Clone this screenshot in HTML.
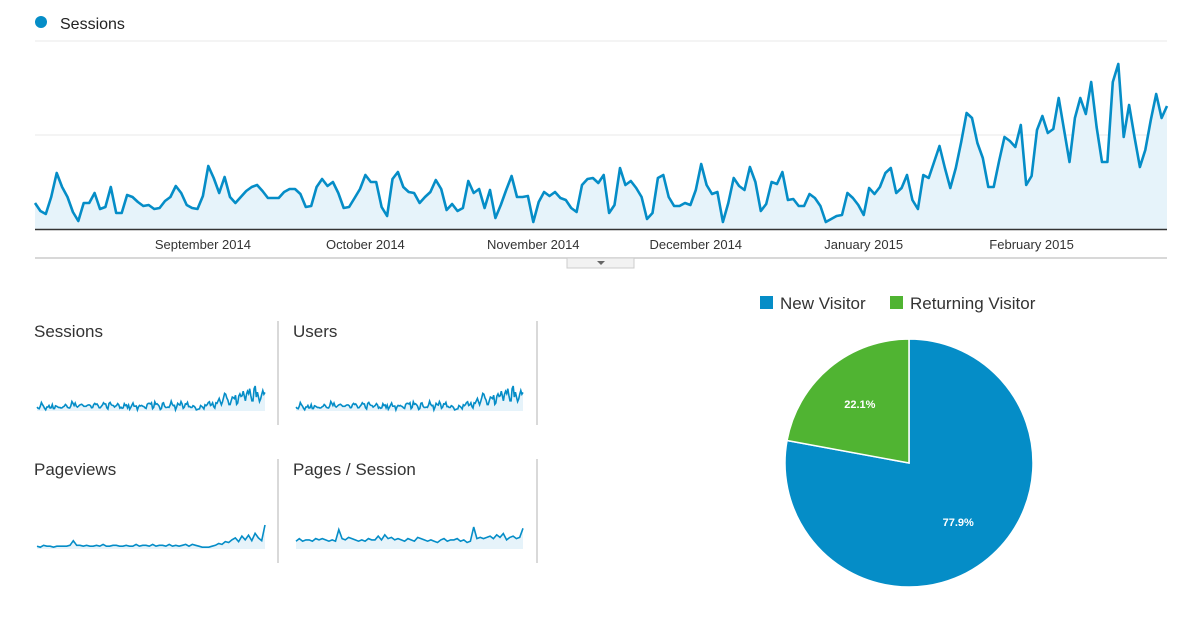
<!DOCTYPE html>
<html><head><meta charset="utf-8">
<style>
body{margin:0;background:#fff;width:1200px;height:630px;overflow:hidden;font-family:"Liberation Sans",Arial,sans-serif;}
svg{position:absolute;left:0;top:0}
</style></head>
<body>
<svg id="root" width="1200" height="630">
  <g id="main"></g>
  <g id="sparks"></g>
  <g id="pie"></g>
</svg>
<script>
const NS="http://www.w3.org/2000/svg";
const sessions=[260,180,150,320,560,420,320,170,80,260,260,360,200,220,420,160,160,340,320,270,230,240,200,210,280,320,430,360,240,210,200,330,630,510,360,520,320,260,320,380,420,440,380,310,310,310,370,400,400,350,220,230,420,500,430,470,360,210,220,310,400,540,470,470,220,130,500,570,420,370,360,260,320,370,490,400,190,250,180,210,480,360,400,210,390,110,240,390,530,320,320,330,70,270,370,330,370,310,290,210,170,440,500,510,460,540,160,240,610,440,480,410,320,100,160,510,540,320,230,230,260,240,390,650,440,350,370,70,260,510,430,390,620,470,180,250,470,450,570,290,300,230,230,350,310,230,70,100,130,140,360,310,240,140,410,350,420,560,610,360,410,540,290,200,540,510,670,830,610,410,610,870,1160,1110,860,710,420,420,680,920,880,820,1040,440,530,990,1130,960,1000,1310,990,670,1110,1310,1150,1470,1020,670,670,1470,1650,920,1240,920,620,790,1090,1350,1110,1230];
const users=sessions;
const pageviews=[3,2,4,3,3,2,3,3,3,3,4,9,4,4,3,4,3,3,4,3,5,3,3,4,4,3,3,4,3,3,5,3,4,4,3,5,3,4,4,3,5,3,4,3,4,5,3,5,4,3,2,2,2,3,4,6,5,8,7,10,12,8,14,10,15,9,17,12,9,26];
const pagesPerSession=[6,8,6,7,7,6,8,7,8,7,6,7,6,15,8,7,9,8,7,6,7,6,8,7,7,10,7,11,8,9,7,8,7,6,8,7,6,9,8,7,6,7,6,5,7,8,6,7,7,8,6,7,5,6,17,8,9,8,9,10,8,11,9,12,7,9,10,8,9,16];
const monthLabels=["September 2014","October 2014","November 2014","December 2014","January 2015","February 2015"];
const monthIndex=[31,61,92,122,153,184];
const pieLabels=["New Visitor","Returning Visitor"];
const pieValues=[77.9,22.1];
const pieColors=["#058dc7","#50b432"];

function mk(tag,attrs,parent){const e=document.createElementNS(NS,tag);for(const k in attrs)e.setAttribute(k,attrs[k]);parent.appendChild(e);return e;}

// main chart
const main=document.getElementById('main');
const X0=35,X1=1167,Y0=229,YTOP=41,YMAX=1880;
const xs=i=>X0+i*(X1-X0)/(sessions.length-1);
const ys=v=>Y0-v/YMAX*(Y0-YTOP);
let t=mk('circle',{cx:41,cy:22,r:6,fill:'#058dc7'},main);


t=mk('text',{x:60,y:29,'font-size':16,fill:'#222'},main);t.textContent='Sessions';


[YMAX,YMAX/2].forEach(v=>{const g=mk('line',{x1:X0,x2:X1,y1:ys(v),y2:ys(v),stroke:'#e8e8e8','stroke-width':1},main);

});
let d='M'+xs(0)+','+ys(sessions[0]);
for(let i=1;i<sessions.length;i++)d+='L'+xs(i).toFixed(1)+','+ys(sessions[i]).toFixed(1);
t=mk('path',{d:d+'L'+xs(sessions.length-1)+','+Y0+'L'+X0+','+Y0+'Z',fill:'#e6f3fa'},main);


t=mk('path',{d:d,fill:'none',stroke:'#058dc7','stroke-width':2.6,'stroke-linejoin':'round'},main);


t=mk('line',{x1:X0,x2:X1,y1:Y0+0.5,y2:Y0+0.5,stroke:'#333','stroke-width':1.5},main);


monthLabels.forEach((m,k)=>{const e=mk('text',{x:xs(monthIndex[k]),y:249,'font-size':13,fill:'#333','text-anchor':'middle'},main);e.textContent=m;

});
t=mk('line',{x1:X0,x2:X1,y1:258,y2:258,stroke:'#ccc','stroke-width':1.5},main);


t=mk('rect',{x:567,y:258,width:67,height:10,fill:'#f2f2f2',stroke:'#ccc'},main);


t=mk('path',{d:'M597,261L605,261L601,265Z',fill:'#666'},main);



// sparklines
const sp=document.getElementById('sparks');
function spark(name,title,data,x0,x1,base,h,tx,ty){
  const e=mk('text',{x:tx,y:ty,'font-size':17,fill:'#333'},sp);e.textContent=title;
  
  
  const mx=Math.max(...data);
  const fx=i=>x0+i*(x1-x0)/(data.length-1), fy=v=>base-v/mx*h;
  let p='M'+fx(0)+','+fy(data[0]);
  for(let i=1;i<data.length;i++)p+='L'+fx(i).toFixed(1)+','+fy(data[i]).toFixed(1);
  const a=mk('path',{d:p+'L'+x1+','+base+'L'+x0+','+base+'Z',fill:'#e6f3fa'},sp);
  
  
  const l=mk('path',{d:p,fill:'none',stroke:'#058dc7','stroke-width':1.6},sp);
  
  
}
spark('sessions','Sessions',sessions,37,265,411,25,34,337);
spark('users','Users',users,296,523,411,25,293,337);
spark('pageviews','Pageviews',pageviews,37,265,549,24,34,475);
spark('pages-per-session','Pages / Session',pagesPerSession,296,523,549,22,293,475);
[[278,321,425],[537,321,425],[278,459,563],[537,459,563]].forEach(v=>{const l=mk('line',{x1:v[0],x2:v[0],y1:v[1],y2:v[2],stroke:'#ccc','stroke-width':1.5},sp);

});

// pie
const pie=document.getElementById('pie');
const cx=909,cy=463,r=124;
const legX=[760,890];
pieLabels.forEach((lab,i)=>{
  const s=mk('rect',{x:legX[i],y:296,width:13,height:13,fill:pieColors[i]},pie);
  
  
  const e=mk('text',{x:legX[i]+20,y:309,'font-size':17,fill:'#333'},pie);e.textContent=lab;
  
  
});
const tot=pieValues.reduce((a,b)=>a+b,0);
let ang=0;
pieValues.forEach((v,i)=>{
  const a0=ang,a1=ang+v/tot*2*Math.PI;ang=a1;
  const p=a=>[cx+r*Math.sin(a),cy-r*Math.cos(a)];
  const [x0,y0]=p(a0),[x1,y1]=p(a1);
  const s=mk('path',{d:`M${cx},${cy}L${x0},${y0}A${r},${r} 0 ${a1-a0>Math.PI?1:0} 1 ${x1},${y1}Z`,fill:pieColors[i],stroke:'#fff','stroke-width':1.5},pie);
  
  
  const m=(a0+a1)/2,lr=r*0.62;
  const e=mk('text',{x:cx+lr*Math.sin(m),y:cy-lr*Math.cos(m)+4,'font-size':11,'font-weight':'bold',fill:'#fff','text-anchor':'middle'},pie);
  e.textContent=v.toFixed(1)+'%';
  
  
});
</script>
</body></html>
